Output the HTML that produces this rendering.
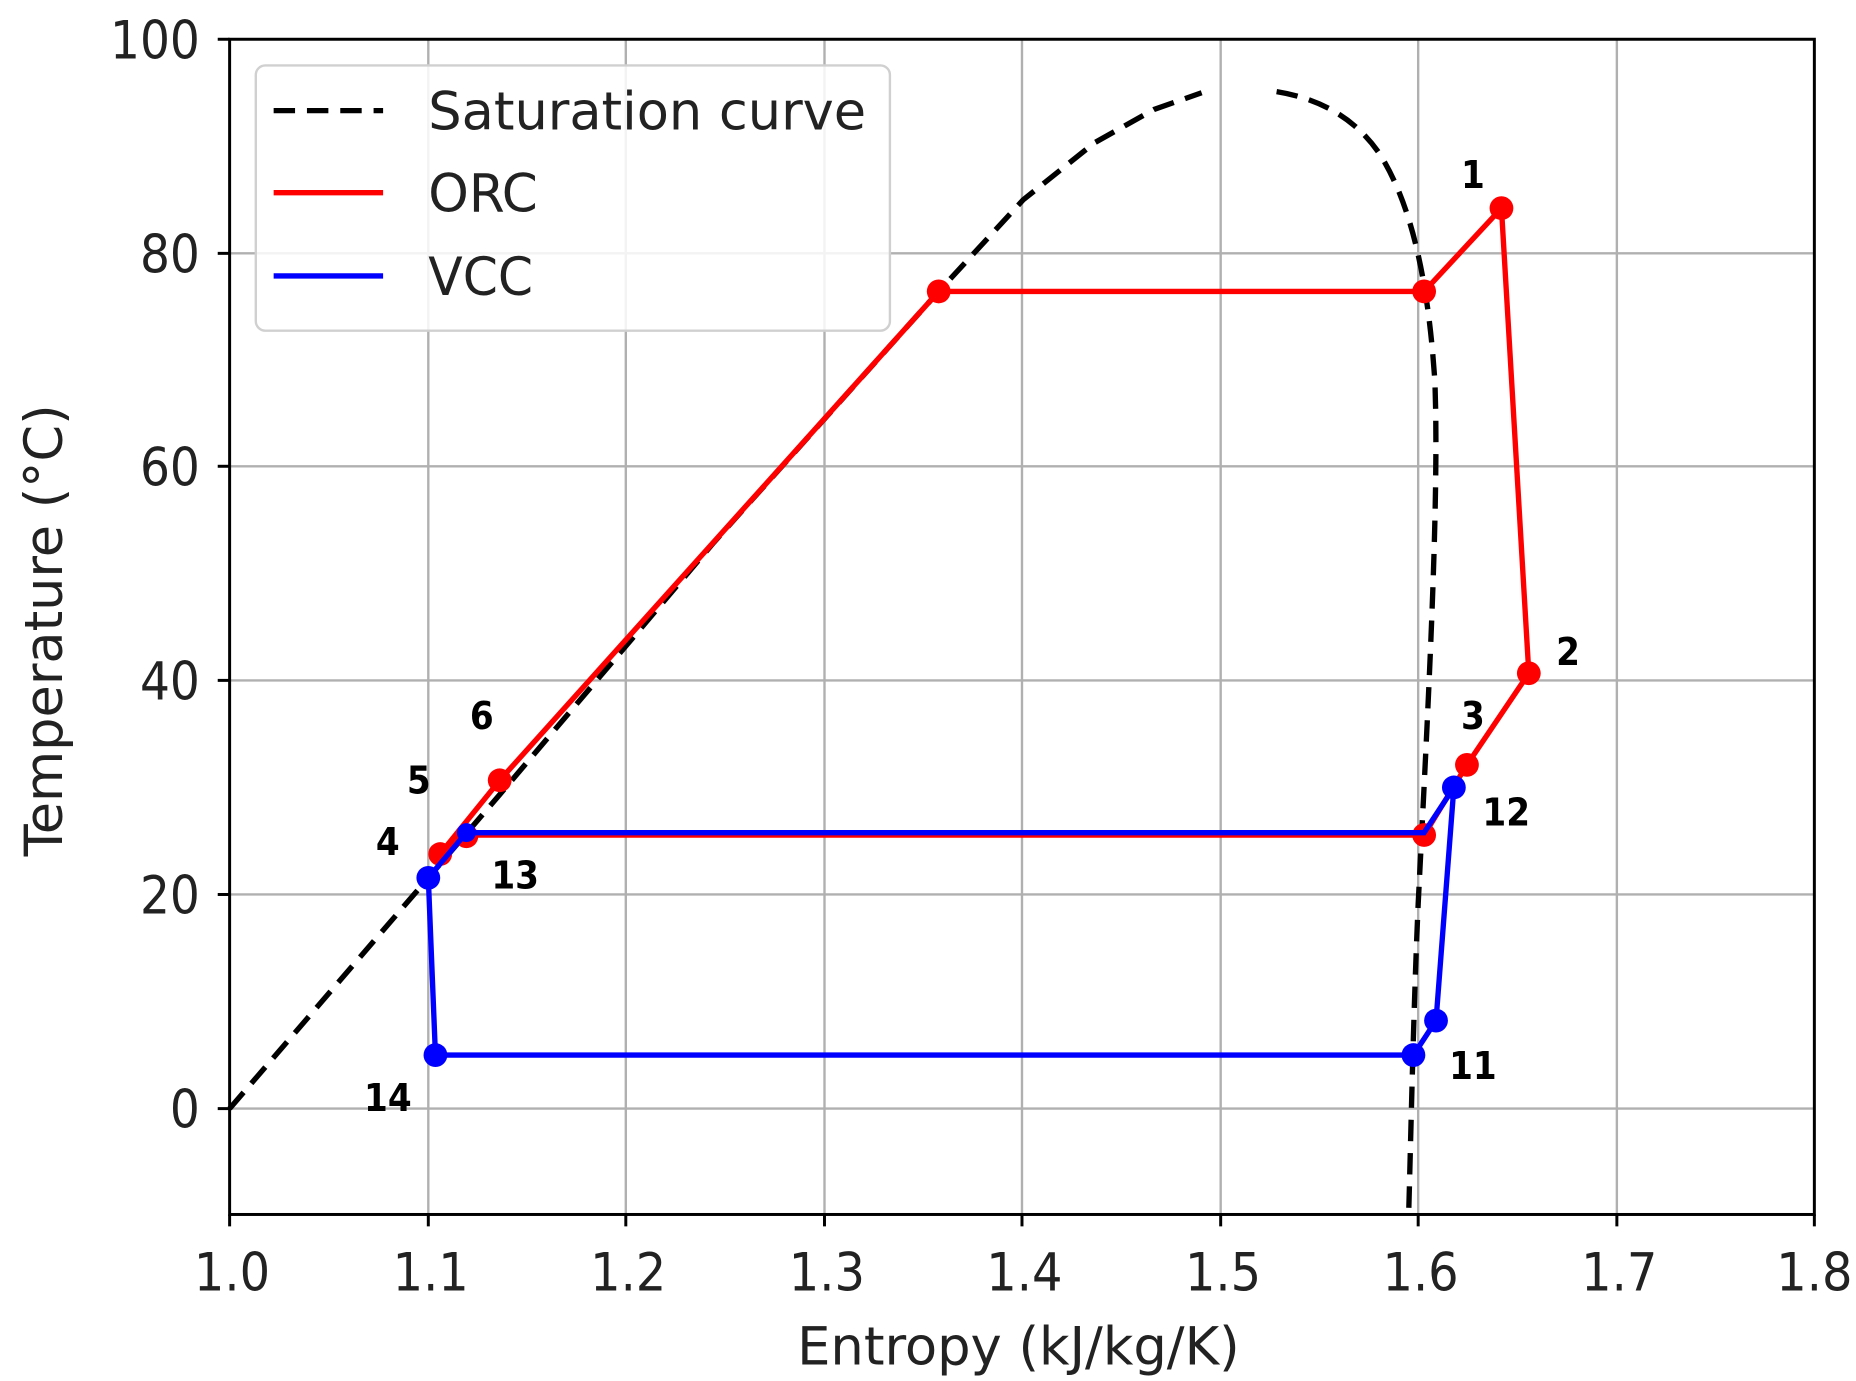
<!DOCTYPE html>
<html><head><meta charset="utf-8"><style>
html,body{margin:0;padding:0;background:#fff;}
svg{display:block;}
text{font-family:"DejaVu Sans Condensed","DejaVu Sans","Liberation Sans",sans-serif;}
</style></head><body>
<svg width="1856" height="1381" viewBox="0 0 1560 1161" preserveAspectRatio="none" xmlns="http://www.w3.org/2000/svg">
<rect width="1560" height="1161" fill="#fff"/>
<g stroke="#b0b0b0" stroke-width="2">
<line x1="360" y1="33" x2="360" y2="1021"/><line x1="526" y1="33" x2="526" y2="1021"/><line x1="693" y1="33" x2="693" y2="1021"/><line x1="859" y1="33" x2="859" y2="1021"/><line x1="1026" y1="33" x2="1026" y2="1021"/><line x1="1192" y1="33" x2="1192" y2="1021"/><line x1="1359" y1="33" x2="1359" y2="1021"/>
<line x1="193" y1="932" x2="1525" y2="932"/><line x1="193" y1="752" x2="1525" y2="752"/><line x1="193" y1="572" x2="1525" y2="572"/><line x1="193" y1="392" x2="1525" y2="392"/><line x1="193" y1="213" x2="1525" y2="213"/>
</g>
<path d="M193,932 L360,738 L420,668 L600,456 L789,245 L860,168 L920,120 L970,92 L1010,78" fill="none" stroke="#000" stroke-width="4.5" stroke-dasharray="18,10"/>
<path d="M1073,77 C1110,83 1140,100 1160,130 C1185,170 1200,230 1206,320 C1210,420 1200,600 1192,760 C1188,850 1186,950 1184,1021" fill="none" stroke="#000" stroke-width="4.5" stroke-dasharray="18,10"/>
<g stroke="#ff0000" stroke-width="4.5" fill="none">
<polyline points="789,245 1197,245 1262,175 1285,566 1233,643 1197,702 392,702 370,718 365,724 420,656 789,245"/>
</g>
<g fill="#ff0000">
<circle cx="789" cy="245" r="10"/><circle cx="1197" cy="245" r="10"/><circle cx="1262" cy="175" r="10"/><circle cx="1285" cy="566" r="10"/><circle cx="1233" cy="643" r="10"/><circle cx="1197" cy="702" r="10"/><circle cx="392" cy="703" r="10"/><circle cx="370" cy="718" r="10"/><circle cx="420" cy="656" r="10"/>
</g>
<g stroke="#0000ff" stroke-width="4.5" fill="none">
<polyline points="360,738 366,887 1188,887 1207,858 1222,662 1197,700 392,700 360,738"/>
</g>
<g fill="#0000ff">
<circle cx="360" cy="738" r="10"/><circle cx="366" cy="887" r="10"/><circle cx="1188" cy="887" r="10"/><circle cx="1207" cy="858" r="10"/><circle cx="1222" cy="662" r="10"/><circle cx="392" cy="700" r="8"/>
</g>
<g font-size="32" font-weight="bold" fill="#000" text-anchor="middle">
<text x="1238" y="158">1</text><text x="1318" y="559">2</text><text x="1238" y="613">3</text><text x="1266" y="694">12</text><text x="1238" y="907">11</text><text x="326" y="934">14</text><text x="326" y="719">4</text><text x="352" y="667">5</text><text x="405" y="613">6</text><text x="433" y="747">13</text>
</g>
<rect x="193" y="33" width="1332" height="988" fill="none" stroke="#000" stroke-width="2.5"/>
<g stroke="#000" stroke-width="2.5">
<line x1="193" y1="1021" x2="193" y2="1031"/><line x1="360" y1="1021" x2="360" y2="1031"/><line x1="526" y1="1021" x2="526" y2="1031"/><line x1="693" y1="1021" x2="693" y2="1031"/><line x1="859" y1="1021" x2="859" y2="1031"/><line x1="1026" y1="1021" x2="1026" y2="1031"/><line x1="1192" y1="1021" x2="1192" y2="1031"/><line x1="1359" y1="1021" x2="1359" y2="1031"/><line x1="1525" y1="1021" x2="1525" y2="1031"/>
<line x1="183" y1="932" x2="193" y2="932"/><line x1="183" y1="752" x2="193" y2="752"/><line x1="183" y1="572" x2="193" y2="572"/><line x1="183" y1="392" x2="193" y2="392"/><line x1="183" y1="213" x2="193" y2="213"/><line x1="183" y1="33" x2="193" y2="33"/>
</g>
<g font-size="44" fill="#222" text-anchor="middle">
<text x="195" y="1085" textLength="64" lengthAdjust="spacingAndGlyphs">1.0</text><text x="362" y="1085" textLength="64" lengthAdjust="spacingAndGlyphs">1.1</text><text x="528" y="1085" textLength="64" lengthAdjust="spacingAndGlyphs">1.2</text><text x="695" y="1085" textLength="64" lengthAdjust="spacingAndGlyphs">1.3</text><text x="861" y="1085" textLength="64" lengthAdjust="spacingAndGlyphs">1.4</text><text x="1028" y="1085" textLength="64" lengthAdjust="spacingAndGlyphs">1.5</text><text x="1194" y="1085" textLength="64" lengthAdjust="spacingAndGlyphs">1.6</text><text x="1361" y="1085" textLength="64" lengthAdjust="spacingAndGlyphs">1.7</text><text x="1525" y="1085" textLength="64" lengthAdjust="spacingAndGlyphs">1.8</text>
</g>
<g font-size="44" fill="#222" text-anchor="end">
<text x="168" y="948">0</text><text x="168" y="768">20</text><text x="168" y="588">40</text><text x="168" y="408">60</text><text x="168" y="229">80</text><text x="168" y="49">100</text>
</g>
<text x="856" y="1147" font-size="44" fill="#222" text-anchor="middle" textLength="372" lengthAdjust="spacingAndGlyphs">Entropy (kJ/kg/K)</text>
<text transform="translate(52,530) rotate(-90)" font-size="44" fill="#222" text-anchor="middle" textLength="380" lengthAdjust="spacingAndGlyphs">Temperature (°C)</text>
<rect x="215" y="55" width="533" height="223" rx="8" fill="#fff" fill-opacity="0.85" stroke="#d0d0d0" stroke-width="2"/>
<line x1="230" y1="93" x2="322" y2="93" stroke="#000" stroke-width="4.5" stroke-dasharray="18,10"/>
<line x1="230" y1="162" x2="322" y2="162" stroke="#ff0000" stroke-width="4.5"/>
<line x1="230" y1="232" x2="322" y2="232" stroke="#0000ff" stroke-width="4.5"/>
<g font-size="44" fill="#222">
<text x="360" y="109" textLength="368" lengthAdjust="spacingAndGlyphs">Saturation curve</text><text x="360" y="178" textLength="92" lengthAdjust="spacingAndGlyphs">ORC</text><text x="360" y="248" textLength="88" lengthAdjust="spacingAndGlyphs">VCC</text>
</g>
</svg>
</body></html>
